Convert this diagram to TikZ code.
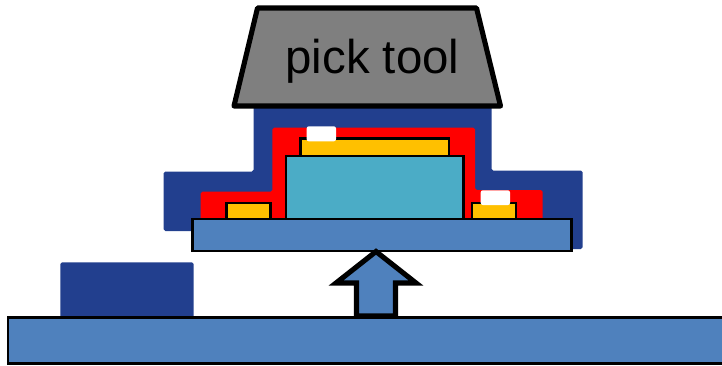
\documentclass[tikz,border=0pt]{standalone}
\usepackage{xcolor}
\usepackage{fontspec}
\setmainfont{Liberation Sans}
\usetikzlibrary{positioning,calc}

\definecolor{moldnavy}{HTML}{223F8E}
\definecolor{plateblue}{HTML}{4F81BD}
\definecolor{dieteal}{HTML}{4BACC6}
\definecolor{padyellow}{HTML}{FFC000}
\definecolor{toolgray}{HTML}{7F7F7F}

\tikzset{
	softbody/.style={rounded corners=1pt,line join=round},
	partbox/.style={draw=black,line width=1.55pt,line join=miter},
	whitecap/.style={fill=white,rounded corners=1.2pt},
}

\begin{document}
\begin{tikzpicture}[x=0.02cm,y=-0.02cm]
		\clip (0,0) rectangle (722,365);

		% Encapsulation layers
		\fill[moldnavy,softbody] (163.5,231) -- (163.5,171.5) -- (253.5,171.5) -- (253.5,100) -- (491.5,100) -- (491.5,170.7) -- (582.7,170.7) -- (582.7,249) -- (560,249) -- (560,231) -- cycle;
		\fill[red,softbody] (200.7,225) -- (200.7,191.7) -- (272.3,191.7) -- (272.3,127.7) -- (475,127.7) -- (475,190) -- (542.7,190) -- (542.7,225) -- cycle;

		% Die and pads
		\draw[partbox,fill=padyellow] (300.5,156) rectangle (449,138.5);
		\draw[partbox,fill=dieteal] (286,219) rectangle (463.5,156);
		\draw[partbox,fill=padyellow] (226.5,219) rectangle (270.3,203);
		\draw[partbox,fill=padyellow] (472,219) rectangle (516,203);
		\fill[whitecap] (306.7,126.3) rectangle (336,141.3);
		\fill[whitecap] (480.7,190.3) rectangle (510,205);

		% Plates
		\draw[partbox,fill=plateblue] (192.3,219) rectangle (571.7,251);
		\fill[moldnavy,rounded corners=1pt] (60.3,318) -- (60.3,262.3) -- (193.7,262.3) -- (193.7,318) -- cycle;
		\draw[partbox,fill=plateblue] (8,317.5) rectangle (740,363.5);

		% Lift arrow
		\draw[fill=plateblue,line width=2.9pt,line join=miter] (376,251.5) -- (416,283) -- (395.5,283) -- (395.5,316) -- (356.5,316) -- (356.5,283) -- (336,283) -- cycle;

		% Tool
		\draw[fill=toolgray,line width=2.9pt,line join=round] (257.5,8) -- (476.5,8) -- (500.5,106) -- (234,106) -- cycle;
		\node[anchor=base,inner sep=0pt] (picktool) at (372.5,73) {\fontsize{27}{30}\selectfont pick tool};
	\end{tikzpicture}
\end{document}
